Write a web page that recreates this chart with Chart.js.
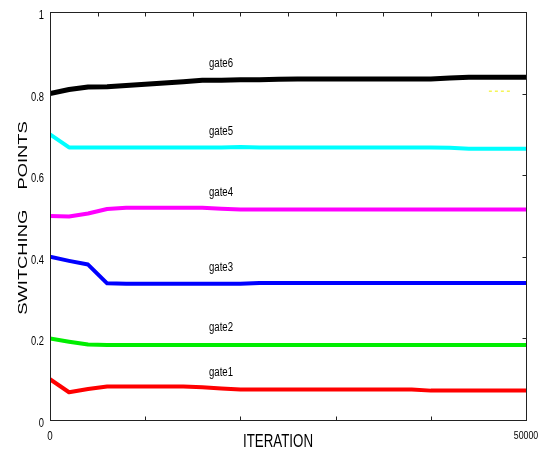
<!DOCTYPE html>
<html>
<head>
<meta charset="utf-8">
<script src="https://cdn.jsdelivr.net/npm/chart.js@4"></script>
<style>
  html, body { margin: 0; padding: 0; background: #fff; }
  #wrap { width: 541px; height: 454px; position: relative; }
</style>
</head>
<body>
<div id="wrap"><canvas id="c"></canvas></div>
<script>
// switching points of the six gates over training iterations
var iterations = [0, 2000, 4000, 6000, 8000, 10000, 12000, 14000, 16000, 18000, 20000, 22000, 24000,
  26000, 28000, 30000, 32000, 34000, 36000, 38000, 40000, 42000, 44000, 46000, 48000, 50000];

var gate1 = [0.100, 0.068, 0.076, 0.082, 0.082, 0.082, 0.082, 0.082, 0.080, 0.077, 0.075, 0.075, 0.075,
  0.075, 0.075, 0.075, 0.075, 0.075, 0.075, 0.075, 0.072, 0.072, 0.072, 0.072, 0.072, 0.072];
var gate2 = [0.200, 0.192, 0.185, 0.184, 0.184, 0.184, 0.184, 0.184, 0.184, 0.184, 0.184, 0.184, 0.184,
  0.184, 0.184, 0.184, 0.184, 0.184, 0.184, 0.184, 0.184, 0.184, 0.184, 0.184, 0.184, 0.184];
var gate3 = [0.400, 0.390, 0.381, 0.335, 0.334, 0.334, 0.334, 0.334, 0.334, 0.334, 0.334, 0.336, 0.336,
  0.336, 0.336, 0.336, 0.336, 0.336, 0.336, 0.336, 0.336, 0.336, 0.336, 0.336, 0.336, 0.336];
var gate4 = [0.500, 0.499, 0.506, 0.517, 0.520, 0.520, 0.520, 0.520, 0.520, 0.518, 0.516, 0.516, 0.516,
  0.516, 0.516, 0.516, 0.516, 0.516, 0.516, 0.516, 0.516, 0.516, 0.516, 0.516, 0.516, 0.516];
var gate5 = [0.700, 0.668, 0.668, 0.668, 0.668, 0.668, 0.668, 0.668, 0.668, 0.668, 0.669, 0.668, 0.668,
  0.668, 0.668, 0.668, 0.668, 0.668, 0.668, 0.668, 0.668, 0.667, 0.665, 0.665, 0.665, 0.665];
var gate6 = [0.800, 0.810, 0.816, 0.817, 0.820, 0.823, 0.826, 0.829, 0.833, 0.833, 0.834, 0.834, 0.835,
  0.836, 0.836, 0.836, 0.836, 0.836, 0.836, 0.836, 0.836, 0.838, 0.840, 0.840, 0.840, 0.840];

// stray dashed key segment near the right edge
var strayX = [46100, 48600];
var strayY = [0.806, 0.806];

var gateNames = ['gate1', 'gate2', 'gate3', 'gate4', 'gate5', 'gate6'];
var gateLabelX = 16700;
var gateLabelY = [0.109, 0.218, 0.366, 0.550, 0.699, 0.864];

var yTicks = [0, 0.2, 0.4, 0.6, 0.8, 1];
var yTickText = ['0', '0.2', '0.4', '0.6', '0.8', '1'];
var xTopTicks = [5000, 10000, 15000, 20000, 25000, 30000, 35000, 40000, 45000];
var xBottomTicks = [10000, 20000, 30000, 40000];
var xTickText = [[0, '0'], [50000, '50000']];

function pts(xs, ys) {
  return xs.map(function (x, i) { return { x: x, y: ys[i] }; });
}

function gateSet(label, ys, color, width) {
  return {
    label: label,
    data: pts(iterations, ys),
    borderColor: color,
    borderWidth: width,
    pointRadius: 0,
    tension: 0,
    borderJoinStyle: 'round',
    fill: false
  };
}

// draw text squeezed/stretched along its own direction
function squashText(ctx, str, x, y, font, sx, align, rot) {
  ctx.save();
  ctx.translate(x, y);
  if (rot) ctx.rotate(rot);
  ctx.scale(sx, 1);
  ctx.font = font;
  ctx.textAlign = align;
  ctx.textBaseline = 'alphabetic';
  ctx.fillStyle = '#000';
  ctx.fillText(str, 0, 0);
  ctx.restore();
}

var framePlugin = {
  id: 'frame',
  afterDatasetsDraw: function (chart) {
    var ctx = chart.ctx;
    var a = chart.chartArea;
    var xs = chart.scales.x, ys = chart.scales.y;
    var L = Math.round(a.left) + 0.5, R = Math.round(a.right) + 0.5;
    var T = Math.round(a.top) + 0.5, B = Math.round(a.bottom) + 0.5;

    ctx.save();
    ctx.strokeStyle = '#222';
    ctx.lineWidth = 1;
    ctx.strokeRect(L, T, R - L, B - T);

    ctx.beginPath();
    xTopTicks.forEach(function (v) {
      var px = Math.round(xs.getPixelForValue(v)) + 0.5;
      ctx.moveTo(px, T); ctx.lineTo(px, T + 4);
    });
    xBottomTicks.forEach(function (v) {
      var px = Math.round(xs.getPixelForValue(v)) + 0.5;
      ctx.moveTo(px, B); ctx.lineTo(px, B - 4);
    });
    yTicks.slice(1, -1).forEach(function (v) {
      var py = Math.round(ys.getPixelForValue(v)) + 0.5;
      ctx.moveTo(R, py); ctx.lineTo(R - 4, py);
    });
    ctx.stroke();
    ctx.restore();

    // y tick labels
    yTicks.forEach(function (v, i) {
      squashText(ctx, yTickText[i], a.left - 6, ys.getPixelForValue(v) + 7,
        '13px "Liberation Sans", Arial, sans-serif', 0.72, 'right');
    });
    // x tick labels
    squashText(ctx, xTickText[0][1], xs.getPixelForValue(xTickText[0][0]), 440,
      '13px "Liberation Sans", Arial, sans-serif', 0.75, 'center');
    squashText(ctx, xTickText[1][1], xs.getPixelForValue(xTickText[1][0]), 439,
      '11px "Liberation Sans", Arial, sans-serif', 0.8, 'center');

    // gate labels
    gateNames.forEach(function (n, i) {
      squashText(ctx, n, xs.getPixelForValue(gateLabelX), ys.getPixelForValue(gateLabelY[i]),
        '12px "Liberation Sans", Arial, sans-serif', 0.8, 'left');
    });

    // axis titles
    squashText(ctx, 'ITERATION', 278, 447, '18px "Liberation Sans", Arial, sans-serif', 0.74, 'center');
    squashText(ctx, 'SWITCHING    POINTS', 27, 218, '13px "Liberation Sans", Arial, sans-serif', 1.41, 'center', -Math.PI / 2);
  }
};

new Chart(document.getElementById('c'), {
  type: 'line',
  data: {
    datasets: [
      gateSet('gate1', gate1, '#ff0000', 4),
      gateSet('gate2', gate2, '#00ee00', 4),
      gateSet('gate3', gate3, '#0000ff', 4),
      gateSet('gate4', gate4, '#ff00ff', 4),
      gateSet('gate5', gate5, '#00ffff', 4),
      gateSet('gate6', gate6, '#000000', 5),
      {
        label: 'stray',
        data: pts(strayX, strayY),
        borderColor: '#f0f000',
        borderWidth: 1,
        borderDash: [3, 3],
        pointRadius: 0
      }
    ]
  },
  options: {
    responsive: true,
    maintainAspectRatio: false,
    animation: false,
    layout: { padding: { left: 50, right: 15, top: 12, bottom: 34 } },
    scales: {
      x: { type: 'linear', min: 0, max: 50000, display: false },
      y: { type: 'linear', min: 0, max: 1, display: false }
    },
    plugins: {
      legend: { display: false },
      tooltip: { enabled: false }
    }
  },
  plugins: [framePlugin]
});
</script>
</body>
</html>
